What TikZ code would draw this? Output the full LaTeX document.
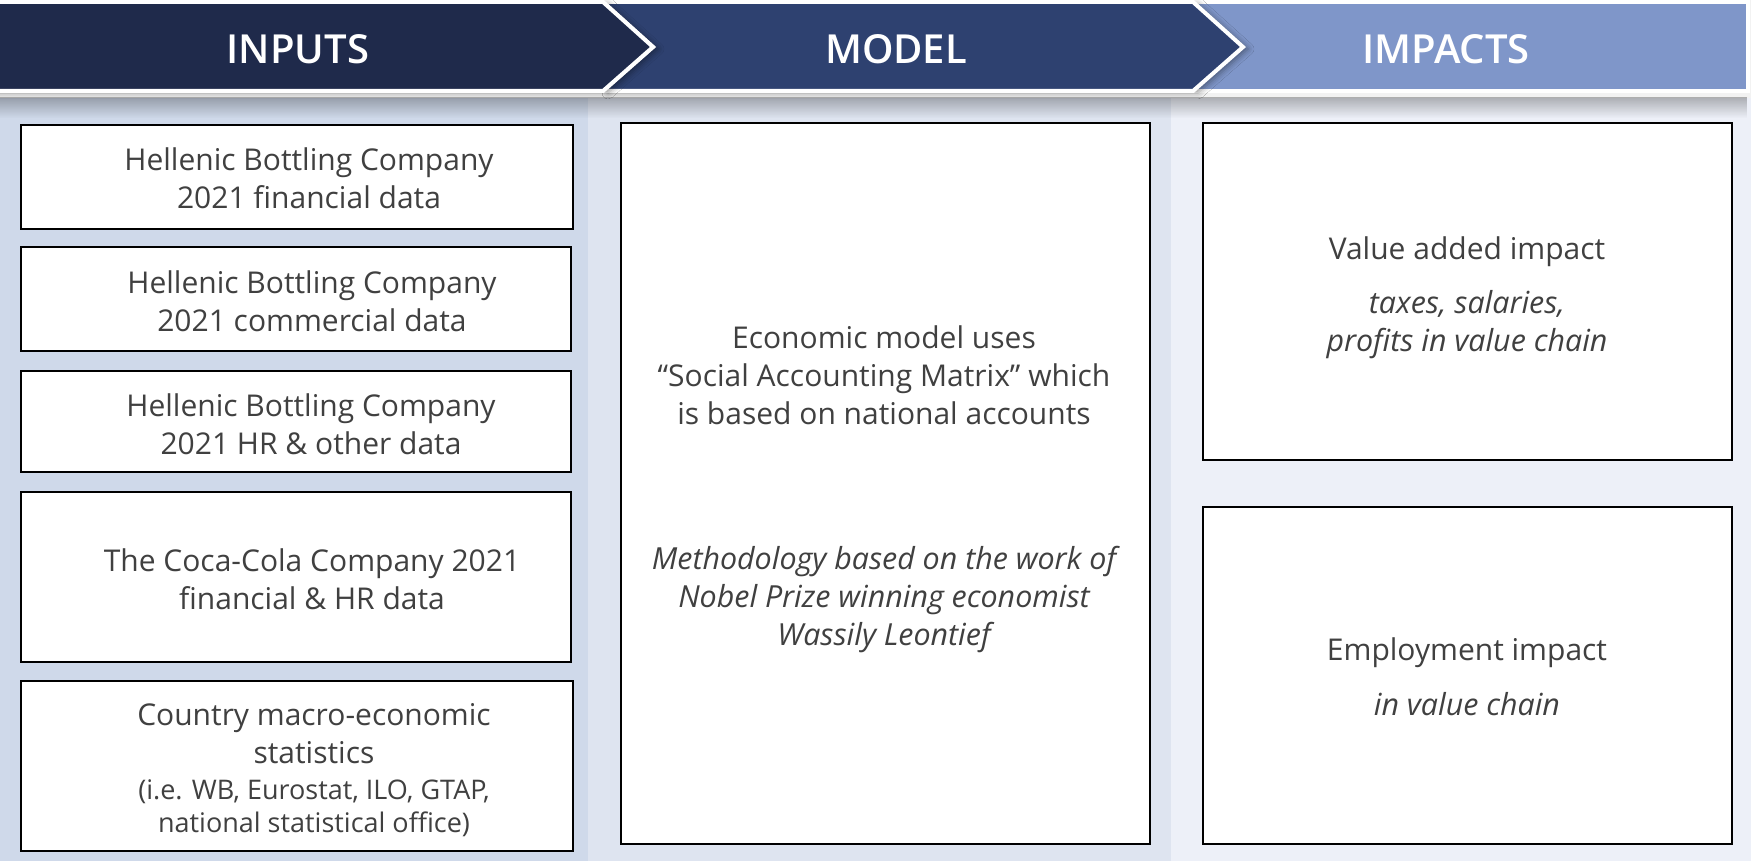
\documentclass[tikz,border=0pt]{standalone}
\usepackage{fontspec}
\setmainfont{Open Sans}
\newfontfamily\hdrfont{Open Sans Semibold}
\usetikzlibrary{fadings,shadows.blur}
\definecolor{inputsband}{HTML}{1F2A4B}
\definecolor{modelband}{HTML}{2E4170}
\definecolor{impactsband}{HTML}{7F96C9}
\definecolor{inputscol}{HTML}{CFD9EA}
\definecolor{modelcol}{HTML}{DEE4F0}
\definecolor{impactscol}{HTML}{EDF0F8}
\definecolor{bodytext}{HTML}{404040}
\definecolor{headstrip}{HTML}{F2F2F2}
\tikzfading[name=fadedown, top color=transparent!0, bottom color=transparent!100]

\begin{document}
\begin{tikzpicture}[x=0.5pt,y=-0.5pt,
  band/.style={draw=white, line width=2pt, line join=miter},
  bandshadow/.style={blur shadow={shadow xshift=2.5pt, shadow yshift=-1pt, shadow blur radius=3pt, shadow opacity=40}},
  hdr/.style={font=\hdrfont\fontsize{20}{24}\selectfont, text=white, inner sep=0pt},
  card/.style={draw=black, line width=1pt, fill=white, inner sep=0pt},
  txt/.style={text=bodytext, align=center, font=\fontsize{15}{19}\selectfont, inner sep=0pt},
  smalltxt/.style={text=bodytext, align=center, font=\fontsize{13.5}{16.75}\selectfont, inner sep=0pt},
  ittxt/.style={txt, font=\fontsize{15.2}{19}\selectfont\itshape},
]
\useasboundingbox (0,0) rectangle (1751,861);

% column backgrounds
\fill[inputscol] (0,98) rectangle (588,861);
\fill[modelcol] (588,98) rectangle (1171,861);
\fill[impactscol] (1171,98) rectangle (1751,861);

% header strip and chevrons
\fill[headstrip] (0,0) rectangle (1751,98);
\path[band, fill=impactsband] (1193,2) -- (1748,2) -- (1748,91) -- (1193,91) -- cycle;
\path[band, bandshadow, fill=modelband] (603,2) -- (1193,2) -- (1243,47) -- (1193,91) -- (603,91) -- (653,47) -- cycle;
\path[band, bandshadow, fill=inputsband] (-5,2) -- (603,2) -- (653,47) -- (603,91) -- (-5,91) -- cycle;
\fill[black, opacity=0.28, path fading=fadedown] (0,97) rectangle (1751,118);

\node[hdr] (hin) at (298,49) {INPUTS};
\node[hdr] (hmod) at (896,49) {MODEL};
\node[hdr] (himp) at (1446,49) {IMPACTS};

% input cards
\node[card, minimum width=276pt, minimum height=52pt] (in1) at (297,177) {};
\node[card, minimum width=275pt, minimum height=52pt] (in2) at (296,299) {};
\node[card, minimum width=275pt, minimum height=50.5pt] (in3) at (296,421.5) {};
\node[card, minimum width=275pt, minimum height=85pt] (in4) at (296,577) {};
\node[card, minimum width=276pt, minimum height=85pt] (in5) at (297,766) {};

\node[txt] (in1t) at (309,178) {Hellenic Bottling Company\\2021 financial data};
\node[txt] (in2t) at (312,301) {Hellenic Bottling Company\\2021 commercial data};
\node[txt] (in3t) at (311,424) {Hellenic Bottling Company\\2021 HR \& other data};
\node[txt] (in4t) at (312,579) {The Coca-Cola Company 2021\\financial \& HR data};
\node[txt] (in5a) at (314,734) {Country macro-economic\\statistics};
\node[smalltxt] (in5b) at (314,808) {(i.e. WB, Eurostat, ILO, GTAP,\\national statistical office)};

% model card
\node[card, minimum width=264.5pt, minimum height=360.5pt] (model) at (885.5,483.5) {};
\node[txt] (modela) at (884,375) {Economic model uses\\“Social Accounting Matrix” which\\is based on national accounts};
\node[ittxt] (modelb) at (884,599.5) {Methodology based on the work of\\Nobel Prize winning economist\\Wassily Leontief};

% impact cards
\node[card, minimum width=264.5pt, minimum height=168.5pt] (imp1) at (1467.5,291.5) {};
\node[card, minimum width=264.5pt, minimum height=168.5pt] (imp2) at (1467.5,675.5) {};
\node[txt] (imp1a) at (1467,251.5) {Value added impact};
\node[ittxt] (imp1b) at (1467,324.5) {taxes, salaries,\\profits in value chain};
\node[txt] (imp2a) at (1467,653) {Employment impact};
\node[ittxt] (imp2b) at (1467,704) {in value chain};
\end{tikzpicture}
\end{document}
